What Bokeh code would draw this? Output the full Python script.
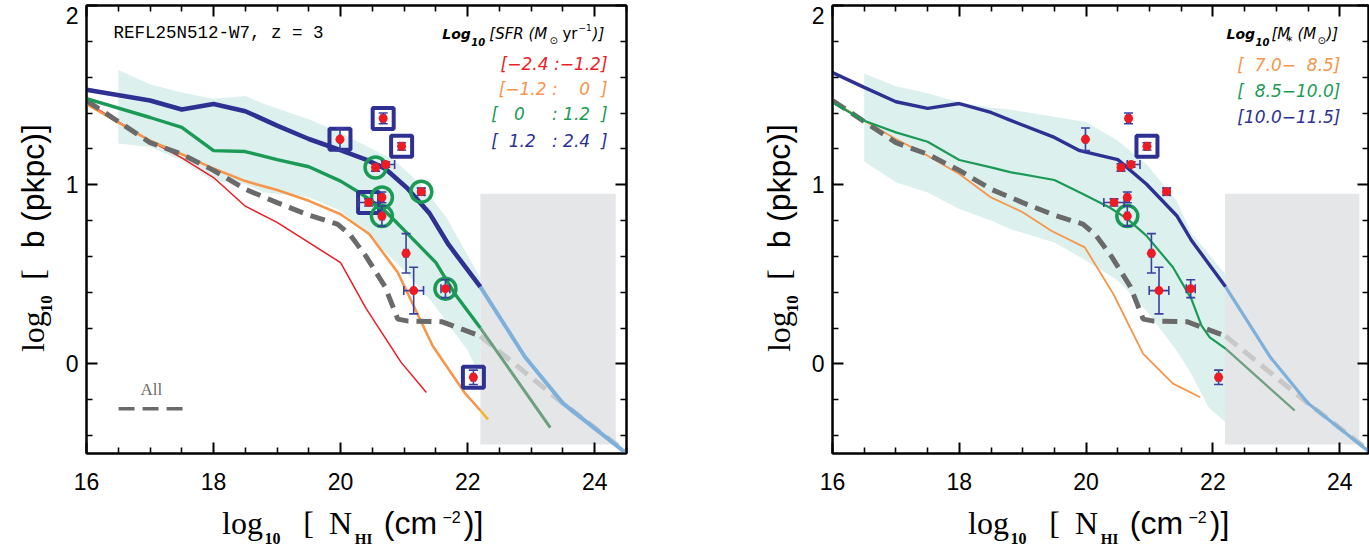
import math
from bokeh.plotting import figure
from bokeh.models import Range1d, LinearAxis, FixedTicker, Label, CustomJSTickFormatter
from bokeh.layouts import row, column
from bokeh.embed import file_html
from bokeh.resources import INLINE
from bokeh.core.properties import value

# ---------------- data ----------------
# common "All" curve
all_x = [16.0, 17.0, 17.5, 18.0, 18.5, 19.0, 19.5, 19.95, 20.15, 20.4, 20.7, 20.9, 21.05, 21.6, 22.2]
all_y = [1.47, 1.235, 1.17, 1.08, 0.975, 0.90, 0.83, 0.78, 0.72, 0.60, 0.43, 0.25, 0.24, 0.235, 0.155]
all_tail_x = [22.2, 23.5, 24.45]
all_tail_y = [0.155, -0.22, -0.48]

# left panel (SFR bins)
sfr_red_x = [16.0, 17.0, 17.5, 18.0, 18.5, 19.0, 20.0, 20.4, 20.95, 21.35]
sfr_red_y = [1.46, 1.245, 1.15, 1.04, 0.88, 0.79, 0.565, 0.31, 0.01, -0.16]
sfr_orange_x = [16.0, 17.0, 17.5, 18.0, 18.5, 19.0, 19.5, 20.0, 20.45, 20.9, 21.45, 21.95, 22.2]
sfr_orange_y = [1.45, 1.245, 1.17, 1.09, 1.02, 0.97, 0.91, 0.835, 0.725, 0.51, 0.10, -0.16, -0.26]
sfr_orange_tail_x = [22.2, 22.32]
sfr_orange_tail_y = [-0.26, -0.31]
sfr_green_x = [16.0, 17.0, 17.5, 18.0, 18.5, 19.0, 19.5, 20.0, 20.3, 20.65, 20.85, 21.1, 21.5, 21.8, 22.2]
sfr_green_y = [1.48, 1.375, 1.32, 1.19, 1.185, 1.14, 1.10, 1.02, 0.955, 0.87, 0.80, 0.71, 0.565, 0.39, 0.20]
sfr_green_tail_x = [22.2, 23.3]
sfr_green_tail_y = [0.20, -0.355]
sfr_blue_x = [16.0, 17.0, 17.5, 18.0, 18.5, 19.0, 19.5, 19.9, 20.4, 20.7, 21.05, 21.4, 21.7, 22.2]
sfr_blue_y = [1.53, 1.47, 1.42, 1.45, 1.41, 1.33, 1.255, 1.205, 1.14, 1.09, 0.98, 0.84, 0.665, 0.43]
blue_tail_x = [22.2, 22.9, 23.5, 24.5]
blue_tail_y = [0.43, 0.04, -0.22, -0.5]
sfr_band_up_x = [16.5, 17.0, 17.5, 18.0, 18.5, 18.8, 19.5, 20.0, 20.85, 21.27, 21.66, 22.2]
sfr_band_up_y = [1.64, 1.56, 1.515, 1.48, 1.495, 1.45, 1.365, 1.29, 1.135, 1.0, 0.82, 0.48]
sfr_band_lo_x = [16.5, 17.0, 17.5, 18.0, 18.5, 18.8, 19.5, 20.0, 20.47, 20.95, 21.43, 22.0, 22.2]
sfr_band_lo_y = [1.23, 1.21, 1.135, 1.02, 1.005, 0.957, 0.93, 0.855, 0.705, 0.54, 0.35, 0.075, -0.075]

# right panel (stellar-mass bins)
ms_orange_x = [16.0, 16.5, 17.0, 17.5, 18.0, 18.5, 18.8, 19.0, 19.45, 19.98, 20.43, 20.9, 21.37, 21.8]
ms_orange_y = [1.468, 1.357, 1.255, 1.162, 1.06, 0.929, 0.88, 0.846, 0.743, 0.65, 0.39, 0.056, -0.11, -0.186]
ms_green_x = [16.0, 16.5, 17.0, 17.5, 18.0, 18.5, 18.8, 19.5, 19.95, 20.37, 20.65, 20.95, 21.37, 21.66, 21.82, 21.95, 22.2]
ms_green_y = [1.459, 1.357, 1.292, 1.24, 1.138, 1.097, 1.07, 1.026, 0.948, 0.873, 0.809, 0.716, 0.539, 0.363, 0.214, 0.148, 0.085]
ms_green_tail_x = [22.2, 23.29]
ms_green_tail_y = [0.085, -0.26]
ms_blue_x = [16.0, 16.5, 17.0, 17.5, 18.0, 18.5, 18.8, 19.5, 19.9, 20.5, 20.95, 21.43, 21.66, 22.2]
ms_blue_y = [1.626, 1.543, 1.463, 1.426, 1.453, 1.403, 1.36, 1.264, 1.19, 1.14, 1.004, 0.827, 0.69, 0.43]
ms_band_up_x = [16.5, 17.0, 17.5, 18.0, 18.5, 18.8, 20.0, 20.5, 20.95, 21.43, 21.66, 22.2]
ms_band_up_y = [1.62, 1.55, 1.51, 1.46, 1.43, 1.42, 1.35, 1.245, 1.115, 0.91, 0.73, 0.50]
ms_band_lo_x = [16.5, 17.0, 17.5, 18.0, 18.5, 18.8, 19.5, 20.0, 20.5, 20.95, 21.43, 21.66, 21.93, 22.2]
ms_band_lo_y = [1.13, 1.013, 0.957, 0.864, 0.80, 0.753, 0.678, 0.576, 0.465, 0.297, 0.074, -0.056, -0.242, -0.326]

# grey region (left, right, bottom, top)
box_left_panel = [22.2, 24.33, -0.45, 0.95]
box_right_panel = [22.19, 24.31, -0.45, 0.95]

# observed absorbers
obs_x = [19.99, 20.67, 20.96, 20.55, 20.71, 21.27, 20.44, 20.65, 20.65, 21.03, 21.15, 21.65, 22.09]
obs_y = [1.253, 1.37, 1.214, 1.096, 1.113, 0.961, 0.901, 0.929, 0.825, 0.617, 0.409, 0.42, -0.075]
obs_xlo = [0.02, 0.03, 0.03, 0.03, 0.06, 0.05, 0.16, 0.03, 0.03, 0.03, 0.155, 0.07, 0.03]
obs_xhi = [0.02, 0.03, 0.03, 0.03, 0.14, 0.05, 0.16, 0.03, 0.03, 0.03, 0.155, 0.07, 0.03]
obs_yerr = [0.063, 0.03, 0.02, 0.02, 0.015, 0.02, 0.02, 0.03, 0.056, 0.11, 0.13, 0.05, 0.04]
left_squares = [0, 1, 2, 6, 12]
left_circles = [3, 5, 7, 8, 11]
right_squares = [2]
right_circles = [8]

x_major = [16, 18, 20, 22, 24]
x_minor = [16.5, 17, 17.5, 18.5, 19, 19.5, 20.5, 21, 21.5, 22.5, 23, 23.5, 24.5]
y_major = [0, 1, 2]
y_minor = [-0.4, -0.2, 0.2, 0.4, 0.6, 0.8, 1.2, 1.4, 1.6, 1.8]
# y positions of the tick labels (the top one sits just inside the frame, as in the original)
y_label_pos = [0, 1, 1.945]

NB = "\u00a0"
M = "\u2212"
sfr_legend = ["[" + M + "2.4" + NB + ":" + M + "1.2]",
              "[" + M + "1.2" + NB + ":" + NB * 4 + "0" + NB * 2 + "]",
              "[" + NB * 3 + "0" + NB * 5 + ":" + NB + "1.2" + NB * 2 + "]",
              "[" + NB * 2 + "1.2" + NB * 3 + ":" + NB + "2.4" + NB * 2 + "]"]
ms_legend = ["[" + NB * 2 + "7.0" + M + NB * 2 + "8.5]",
             "[" + NB * 2 + "8.5" + M + "10.0]",
             "[10.0" + M + "11.5]"]

# ---------------- style ----------------
NAVY = "#2e3192"
LBLUE = "#7eb0dc"
GREEN = "#1b9a55"
LGREEN = "#6c9f80"
ORANGE = "#f7964a"
GOLD = "#f5b52a"
RED = "#ed1c24"
DGRAY = "#6a6a6a"
LGRAY = "#c8c8c8"
BAND = "#dcf1ee"
BOX = "#e5e6e8"
ERR = "#3b3f9e"

X_SCALE = 63.4
Y_TOP = 5
Y_SCALE = 179.2
FRAME_H = 448
TOP_H = 500          # height of the row holding the panels
TOTAL_H = 549


def X(px, left):
    return 16.0 + (px - left) / X_SCALE


def Y(py):
    return 2.0 - (py - Y_TOP) / Y_SCALE


def tick_style(ax):
    ax.major_tick_in = 11
    ax.major_tick_out = 0
    ax.minor_tick_in = 6
    ax.minor_tick_out = 0
    ax.axis_line_width = 2
    ax.axis_line_color = "black"
    ax.major_tick_line_width = 2
    ax.minor_tick_line_width = 1.6
    ax.major_tick_line_color = "black"
    ax.minor_tick_line_color = "black"
    ax.major_label_text_font = "Liberation Sans"
    ax.major_label_text_font_size = "23px"
    ax.major_label_text_color = "black"


def style_axes(p):
    xt = FixedTicker(ticks=x_major, minor_ticks=x_minor)
    yt = FixedTicker(ticks=y_major, minor_ticks=y_minor)
    bottom = p.below[0]
    left = p.left[0]
    bottom.ticker = xt
    left.ticker = yt
    left.formatter = CustomJSTickFormatter(code="return ''")
    top = LinearAxis(ticker=xt, formatter=CustomJSTickFormatter(code="return ''"))
    rgt = LinearAxis(ticker=yt, formatter=CustomJSTickFormatter(code="return ''"))
    p.add_layout(top, "above")
    p.add_layout(rgt, "right")
    for ax in [bottom, left, top, rgt]:
        tick_style(ax)
    for ax in [left, top, rgt]:
        ax.major_label_text_font_size = "1px"
        ax.major_label_standoff = 0
    bottom.major_label_standoff = 19
    # y tick labels (axis carrying only the numbers)
    ylab = LinearAxis(ticker=FixedTicker(ticks=y_label_pos, minor_ticks=[]),
                      formatter=CustomJSTickFormatter(code="return Math.round(tick).toString()"))
    tick_style(ylab)
    ylab.major_tick_in = 0
    ylab.minor_tick_in = 0
    ylab.axis_line_color = None
    ylab.major_tick_line_color = None
    ylab.minor_tick_line_color = None
    ylab.major_label_standoff = 8
    p.add_layout(ylab, "left")


def make_panel(x_end, frame_w, bl, br):
    p = figure(width=bl + frame_w + br, height=TOP_H, frame_width=frame_w, frame_height=FRAME_H,
               x_range=Range1d(16, x_end), y_range=Range1d(-0.5, 2.0),
               min_border_left=bl, min_border_right=br, min_border_top=Y_TOP,
               min_border_bottom=TOP_H - Y_TOP - FRAME_H,
               output_backend="svg", toolbar_location=None)
    p.xgrid.visible = False
    p.ygrid.visible = False
    p.outline_line_color = "black"
    p.outline_line_width = 2
    p.background_fill_color = "white"
    p.border_fill_color = "white"
    style_axes(p)
    return p


def text_fig(w, h):
    f = figure(width=w, height=h, x_range=Range1d(0, w), y_range=Range1d(0, h),
               min_border=0, min_border_left=0, min_border_right=0, min_border_top=0,
               min_border_bottom=0, x_axis_type=None, y_axis_type=None,
               output_backend="svg", toolbar_location=None)
    f.outline_line_color = None
    f.xgrid.visible = False
    f.ygrid.visible = False
    f.background_fill_color = "white"
    f.border_fill_color = "white"
    return f


def add_band(p, ux, uy, lx, ly, box):
    p.patch(x=ux + lx[::-1], y=uy + ly[::-1], fill_color=BAND, line_color=None)
    p.quad(left=[box[0]], right=[box[1]], bottom=[box[2]], top=[box[3]], fill_color=BOX, line_color=None)


def add_points(p, squares, circles):
    sx = [obs_x[i] for i in squares]
    sy = [obs_y[i] for i in squares]
    cx = [obs_x[i] for i in circles]
    cy = [obs_y[i] for i in circles]
    p.scatter(sx, sy, marker="square", size=21, fill_color=None, line_color=NAVY, line_width=4)
    p.scatter(cx, cy, marker="circle", size=21, fill_color=None, line_color=GREEN, line_width=3.5)
    y0 = [y - e for y, e in zip(obs_y, obs_yerr)]
    y1 = [y + e for y, e in zip(obs_y, obs_yerr)]
    x0 = [x - e for x, e in zip(obs_x, obs_xlo)]
    x1 = [x + e for x, e in zip(obs_x, obs_xhi)]
    p.segment(obs_x, y0, obs_x, y1, line_color=ERR, line_width=1.6)
    p.segment(x0, obs_y, x1, obs_y, line_color=ERR, line_width=1.6)
    p.scatter(obs_x + obs_x, y0 + y1, marker="dash", size=9, line_color=ERR, line_width=1.6)
    p.scatter(x0 + x1, obs_y + obs_y, marker="dash", size=9, angle=math.pi / 2, line_color=ERR, line_width=1.6)
    p.scatter(obs_x, obs_y, marker="circle", size=9, fill_color=RED, line_color=None)


def lab(p, x, y, text, size, color="black", font="DejaVu Sans", style="normal", align="left",
        baseline="middle", angle=0):
    p.add_layout(Label(x=x, y=y, text=text, text_font=font, text_font_size=size,
                       text_font_style=style, text_color=color, text_align=align,
                       text_baseline=baseline, angle=angle))


def in_panel_texts(p, left):
    p.text(x=[X(113, left)], y=[Y(32)], text=["REFL25N512-W7, z = 3"],
           text_font=value("Liberation Mono"), text_font_size="17.5px", text_color="black",
           text_align="left", text_baseline="middle")
    p.text(x=[X(150.7, left)], y=[Y(389)], text=["All"],
           text_font=value("Liberation Serif"), text_font_size="17px", text_color=DGRAY,
           text_align="center", text_baseline="middle")
    p.line([X(118, left), X(184, left)], [Y(408.3), Y(408.3)], line_color=DGRAY, line_width=3.5,
           line_dash="16 8")


def y_label(f, x_off):
    # pieces of "log10 [ b (pkpc)]" (reading upwards), given by their centres:
    # (text, centre py, centre px, size, font, style)
    pieces = [("log", 364, 32, "32px", "Liberation Serif", "normal"),
              ("10", 333, 46, "17px", "Liberation Serif", "bold"),
              ("[", 300, 32, "32px", "Liberation Serif", "normal"),
              ("b", 261, 32, "32px", "Liberation Sans", "normal"),
              ("(pkpc)]", 187, 32, "32px", "Liberation Sans", "normal")]
    for t, py, px, sz, fn, st in pieces:
        lab(f, px - x_off, TOP_H - py, t, sz, font=fn, style=st, align="center",
            baseline="middle", angle=math.pi / 2)


def x_label(f, x_off):
    # (text, centre px, centre py, size, font, style)
    pieces = [("log", 242, 522, "32px", "Liberation Serif", "normal"),
              ("10", 272, 538, "16px", "Liberation Serif", "bold"),
              ("[", 308, 522, "32px", "Liberation Serif", "normal"),
              ("N", 340, 522, "32px", "Liberation Serif", "normal"),
              ("HI", 363, 538, "15px", "Liberation Serif", "bold"),
              ("(cm", 410, 522, "32px", "Liberation Sans", "normal"),
              (M + "2", 451, 516, "16px", "Liberation Sans", "normal"),
              (")]", 473, 522, "32px", "Liberation Sans", "normal")]
    for t, px, py, sz, fn, st in pieces:
        lab(f, px + x_off, TOTAL_H - py, t, sz, font=fn, style=st, align="center",
            baseline="middle")


# ---------------- left panel ----------------
L = 86
p1 = make_panel(24.5, 540, 28, 74)
add_band(p1, sfr_band_up_x, sfr_band_up_y, sfr_band_lo_x, sfr_band_lo_y, box_left_panel)
p1.line(sfr_red_x, sfr_red_y, line_color=RED, line_width=1.5)
p1.line(sfr_orange_x, sfr_orange_y, line_color=ORANGE, line_width=2.6)
p1.line(sfr_orange_tail_x, sfr_orange_tail_y, line_color=GOLD, line_width=2.6)
p1.line(all_x, all_y, line_color=DGRAY, line_width=5, line_dash="15 8")
p1.line(all_tail_x, all_tail_y, line_color=LGRAY, line_width=5, line_dash="15 8")
p1.line(sfr_green_x, sfr_green_y, line_color=GREEN, line_width=3.4)
p1.line(sfr_green_tail_x, sfr_green_tail_y, line_color=LGREEN, line_width=3)
p1.line(sfr_blue_x, sfr_blue_y, line_color=NAVY, line_width=4.6)
p1.line(blue_tail_x, blue_tail_y, line_color=LBLUE, line_width=4)
add_points(p1, left_squares, left_circles)
in_panel_texts(p1, L)

lab(p1, X(441, L), Y(33), "Log", "14px", style="bold italic")
lab(p1, X(470, L), Y(41), "10", "10px", style="bold italic")
lab(p1, X(488, L), Y(33), "[SFR" + NB + "(M", "15px", style="italic")
lab(p1, X(548, L), Y(40), "\u2299", "10px")
lab(p1, X(561, L), Y(33), "yr", "15px")
lab(p1, X(577, L), Y(27), M + "1", "9px")
lab(p1, X(591, L), Y(33), ")]", "15px", style="italic")
for txt, col, yy in zip(sfr_legend, [RED, ORANGE, GREEN, NAVY], [63, 88, 113, 140]):
    lab(p1, X(606, L), Y(yy), txt, "17px", color=col, style="italic", align="right")

# ---------------- right panel ----------------
R = 832
p2 = make_panel(16 + 536 / X_SCALE, 536, 28, 1)
add_band(p2, ms_band_up_x, ms_band_up_y, ms_band_lo_x, ms_band_lo_y, box_right_panel)
p2.line(ms_orange_x, ms_orange_y, line_color=ORANGE, line_width=1.8)
p2.line(all_x, all_y, line_color=DGRAY, line_width=5, line_dash="15 8")
p2.line(all_tail_x, all_tail_y, line_color=LGRAY, line_width=5, line_dash="15 8")
p2.line(ms_green_x, ms_green_y, line_color=GREEN, line_width=2.2)
p2.line(ms_green_tail_x, ms_green_tail_y, line_color=LGREEN, line_width=2.2)
p2.line(ms_blue_x, ms_blue_y, line_color=NAVY, line_width=3.4)
p2.line(blue_tail_x, blue_tail_y, line_color=LBLUE, line_width=3.2)
add_points(p2, right_squares, right_circles)
in_panel_texts(p2, R)

lab(p2, X(1226, R), Y(33), "Log", "14px", style="bold italic")
lab(p2, X(1255, R), Y(41), "10", "10px", style="bold italic")
lab(p2, X(1271, R), Y(33), "[M", "15px", style="italic")
lab(p2, X(1286, R), Y(40), "*", "12px")
lab(p2, X(1297, R), Y(33), "(M", "15px", style="italic")
lab(p2, X(1317, R), Y(40), "\u2299", "10px")
lab(p2, X(1326, R), Y(33), ")]", "15px", style="italic")
for txt, col, yy in zip(ms_legend, [ORANGE, GREEN, NAVY], [64, 90, 116]):
    lab(p2, X(1340, R), Y(yy), txt, "17px", color=col, style="italic", align="right")

# ---------------- axis-title strips ----------------
yl1 = text_fig(58, TOP_H)
y_label(yl1, 0)
yl2 = text_fig(104, TOP_H)
y_label(yl2, 700 - 746)
xl = text_fig(1369, TOTAL_H - TOP_H)
x_label(xl, 0)
x_label(xl, 746)

layout = column(row(yl1, p1, yl2, p2), xl)
open("out.html", "w").write(file_html(layout, INLINE))
